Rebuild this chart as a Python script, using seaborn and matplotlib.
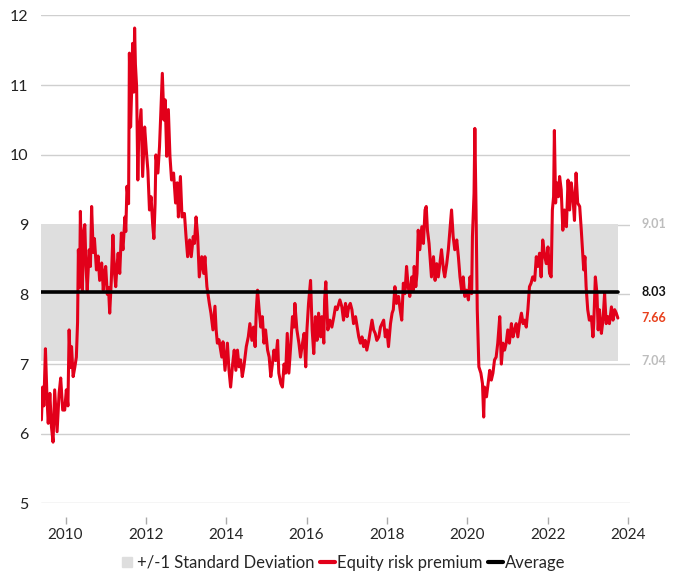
import matplotlib
matplotlib.use("Agg")
import matplotlib.pyplot as plt
import seaborn as sns
import pandas as pd
from matplotlib.lines import Line2D

# ---- data ----
years = [
    2009.40, 2009.43, 2009.46, 2009.50, 2009.54, 2009.57, 2009.61, 2009.65, 2009.69, 2009.73,
    2009.79, 2009.84, 2009.88, 2009.93, 2009.98, 2010.02, 2010.06, 2010.09, 2010.12, 2010.15,
    2010.19, 2010.23, 2010.27, 2010.30, 2010.32, 2010.35, 2010.37, 2010.40, 2010.42, 2010.45,
    2010.48, 2010.51, 2010.54, 2010.59, 2010.62, 2010.65, 2010.69, 2010.72, 2010.77, 2010.81,
    2010.85, 2010.90, 2010.94, 2010.97, 2011.00, 2011.04, 2011.07, 2011.10, 2011.14, 2011.18,
    2011.22, 2011.25, 2011.28, 2011.31, 2011.35, 2011.39, 2011.43, 2011.48, 2011.50, 2011.53,
    2011.57, 2011.59, 2011.62, 2011.65, 2011.67, 2011.70, 2011.72, 2011.74, 2011.77, 2011.80,
    2011.82, 2011.86, 2011.88, 2011.92, 2011.97, 2012.01, 2012.05, 2012.09, 2012.13, 2012.17,
    2012.20, 2012.23, 2012.25, 2012.30, 2012.34, 2012.38, 2012.41, 2012.45, 2012.48, 2012.52,
    2012.56, 2012.60, 2012.64, 2012.69, 2012.74, 2012.78, 2012.81, 2012.86, 2012.90, 2012.96,
    2013.00, 2013.04, 2013.09, 2013.13, 2013.18, 2013.21, 2013.25, 2013.29, 2013.33, 2013.39,
    2013.44, 2013.47, 2013.52, 2013.58, 2013.62, 2013.67, 2013.72, 2013.75, 2013.78, 2013.82,
    2013.89, 2013.92, 2013.97, 2014.03, 2014.07, 2014.11, 2014.16, 2014.20, 2014.24, 2014.28,
    2014.32, 2014.36, 2014.40, 2014.44, 2014.50, 2014.55, 2014.59, 2014.64, 2014.68, 2014.72,
    2014.75, 2014.78, 2014.82, 2014.86, 2014.90, 2014.94, 2014.98, 2015.03, 2015.07, 2015.11,
    2015.15, 2015.19, 2015.23, 2015.28, 2015.31, 2015.36, 2015.40, 2015.44, 2015.48, 2015.52,
    2015.56, 2015.61, 2015.65, 2015.69, 2015.71, 2015.76, 2015.81, 2015.85, 2015.90, 2015.94,
    2015.98, 2016.01, 2016.05, 2016.10, 2016.14, 2016.18, 2016.22, 2016.26, 2016.30, 2016.35,
    2016.38, 2016.43, 2016.45, 2016.48, 2016.53, 2016.58, 2016.63, 2016.68, 2016.72, 2016.76,
    2016.83, 2016.88, 2016.92, 2016.97, 2017.01, 2017.05, 2017.09, 2017.13, 2017.17, 2017.22,
    2017.26, 2017.30, 2017.34, 2017.38, 2017.42, 2017.46, 2017.50, 2017.55, 2017.59, 2017.63,
    2017.67, 2017.71, 2017.75, 2017.80, 2017.84, 2017.88, 2017.92, 2017.96, 2018.00, 2018.04,
    2018.09, 2018.13, 2018.16, 2018.20, 2018.24, 2018.29, 2018.33, 2018.37, 2018.41, 2018.45,
    2018.49, 2018.53, 2018.57, 2018.62, 2018.66, 2018.68, 2018.72, 2018.75, 2018.78, 2018.82,
    2018.87, 2018.91, 2018.95, 2018.98, 2019.01, 2019.05, 2019.08, 2019.11, 2019.16, 2019.20,
    2019.24, 2019.28, 2019.32, 2019.36, 2019.41, 2019.44, 2019.49, 2019.53, 2019.57, 2019.61,
    2019.65, 2019.69, 2019.74, 2019.78, 2019.82, 2019.86, 2019.90, 2019.94, 2019.98, 2020.03,
    2020.07, 2020.11, 2020.13, 2020.17, 2020.19, 2020.22, 2020.25, 2020.29, 2020.34, 2020.38,
    2020.41, 2020.43, 2020.48, 2020.52, 2020.56, 2020.60, 2020.64, 2020.68, 2020.72, 2020.76,
    2020.81, 2020.85, 2020.89, 2020.93, 2020.97, 2021.01, 2021.05, 2021.10, 2021.14, 2021.18,
    2021.22, 2021.26, 2021.30, 2021.35, 2021.39, 2021.43, 2021.47, 2021.51, 2021.55, 2021.59,
    2021.63, 2021.68, 2021.72, 2021.76, 2021.80, 2021.84, 2021.88, 2021.93, 2021.97, 2022.01,
    2022.05, 2022.09, 2022.12, 2022.15, 2022.17, 2022.20, 2022.23, 2022.27, 2022.30, 2022.34,
    2022.38, 2022.42, 2022.47, 2022.51, 2022.55, 2022.59, 2022.63, 2022.67, 2022.71, 2022.75,
    2022.80, 2022.84, 2022.88, 2022.90, 2022.93, 2022.96, 2023.00, 2023.04, 2023.09, 2023.13,
    2023.15, 2023.19, 2023.23, 2023.26, 2023.29, 2023.34, 2023.38, 2023.42, 2023.46, 2023.50,
    2023.54, 2023.59, 2023.63, 2023.67, 2023.71, 2023.75,
]
erp = [
    6.20, 6.67, 6.40, 7.22, 6.50, 6.15, 6.58, 6.10, 5.88, 6.63,
    6.03, 6.58, 6.80, 6.34, 6.34, 6.63, 6.40, 7.49, 6.95, 7.25,
    6.82, 6.95, 7.10, 7.60, 8.64, 8.10, 9.19, 8.30, 8.06, 8.90,
    9.00, 8.40, 8.06, 8.64, 8.40, 9.26, 8.60, 8.80, 8.35, 8.55,
    8.20, 8.45, 8.06, 8.30, 8.40, 8.00, 8.10, 7.73, 8.20, 8.85,
    8.30, 8.11, 8.40, 8.59, 8.30, 8.88, 8.64, 9.11, 8.90, 9.55,
    9.30, 11.46, 10.40, 11.00, 11.60, 10.90, 11.82, 11.30, 10.98, 9.64,
    10.20, 10.50, 10.65, 9.69, 10.40, 10.07, 9.78, 9.21, 9.40, 9.00,
    8.80, 9.30, 10.00, 9.74, 10.12, 10.74, 11.17, 10.50, 10.79, 9.98,
    10.65, 9.98, 9.64, 9.74, 9.31, 9.60, 9.11, 9.69, 9.11, 9.16,
    8.83, 8.54, 8.78, 8.54, 8.83, 8.73, 9.11, 8.83, 8.25, 8.54,
    8.30, 8.54, 8.11, 7.87, 7.73, 7.49, 7.83, 7.49, 7.30, 7.35,
    7.10, 7.32, 6.91, 7.30, 6.91, 6.67, 7.00, 7.20, 6.91, 7.20,
    6.96, 7.06, 6.82, 6.96, 7.25, 7.39, 7.58, 7.34, 7.53, 7.25,
    7.78, 8.06, 7.78, 7.53, 7.68, 7.30, 7.49, 7.20, 7.10, 6.82,
    7.00, 7.20, 7.05, 7.34, 6.87, 6.72, 6.67, 7.00, 6.87, 7.44,
    6.87, 7.30, 7.68, 7.53, 7.87, 7.49, 7.30, 7.10, 7.30, 7.44,
    6.96, 7.49, 7.87, 8.20, 7.49, 7.15, 7.68, 7.34, 7.73, 7.39,
    7.68, 7.30, 7.92, 8.18, 7.49, 7.63, 7.53, 7.68, 7.82, 7.78,
    7.92, 7.82, 7.63, 7.87, 7.68, 7.82, 7.87, 7.78, 7.58, 7.68,
    7.53, 7.39, 7.30, 7.39, 7.25, 7.34, 7.20, 7.34, 7.49, 7.63,
    7.49, 7.44, 7.34, 7.39, 7.53, 7.58, 7.63, 7.39, 7.49, 7.25,
    7.58, 7.73, 7.78, 8.11, 7.87, 7.97, 7.78, 7.63, 8.16, 8.01,
    8.40, 8.11, 7.97, 8.25, 8.06, 8.40, 8.11, 8.30, 8.92, 8.64,
    8.97, 8.73, 9.21, 9.26, 8.92, 8.73, 8.49, 8.25, 8.54, 8.20,
    8.44, 8.25, 8.44, 8.64, 8.35, 8.25, 8.44, 8.64, 8.92, 9.21,
    8.83, 8.64, 8.78, 8.54, 8.25, 8.06, 8.25, 7.97, 8.06, 7.92,
    8.25, 8.01, 8.83, 9.45, 10.38, 9.21, 7.78, 6.96, 6.87, 6.72,
    6.24, 6.67, 6.53, 6.72, 6.91, 6.77, 6.87, 7.06, 7.10, 7.30,
    7.68, 7.00, 7.30, 7.20, 7.30, 7.49, 7.30, 7.58, 7.39, 7.49,
    7.58, 7.39, 7.58, 7.73, 7.58, 7.63, 7.53, 7.78, 8.11, 8.16,
    8.25, 8.20, 8.54, 8.40, 8.59, 8.25, 8.78, 8.54, 8.44, 8.68,
    8.30, 8.25, 9.21, 9.40, 10.35, 9.31, 9.60, 9.40, 9.69, 9.50,
    8.92, 9.21, 8.97, 9.64, 9.21, 9.60, 9.40, 9.06, 9.74, 9.31,
    9.26, 8.92, 8.54, 8.35, 8.54, 8.11, 7.78, 7.63, 7.68, 7.39,
    7.58, 8.25, 8.01, 7.49, 7.78, 7.44, 7.63, 8.01, 7.58, 7.68,
    7.58, 7.82, 7.63, 7.78, 7.73, 7.66,
]
average = 8.03
sd_upper = 9.01
sd_lower = 7.04
latest = 7.66
x_ticks = [2010, 2012, 2014, 2016, 2018, 2020, 2022, 2024]
y_ticks = [5, 6, 7, 8, 9, 10, 11, 12]
legend_labels = ["+/-1 Standard Deviation", "Equity risk premium", "Average"]

RED = "#E2001A"
BAND = "#DEDEDE"
GRID = "#CFCFCF"

sns.set_theme(style="white")
plt.rcParams["font.family"] = ["Lato", "DejaVu Sans"]

df = pd.DataFrame({"year": years, "erp": erp})

fig = plt.figure(figsize=(6.79, 5.73), dpi=100)
ax = fig.add_axes([0.0604, 0.1213, 0.8667, 0.8517])

# grid
for v in y_ticks:
    ax.axhline(v, color=GRID, lw=1.0, zorder=0)

# +/-1 SD band
ax.fill_between([years[0], years[-1]], sd_lower, sd_upper, color=BAND, lw=0, zorder=1)

# Equity risk premium line
sns.lineplot(data=df, x="year", y="erp", ax=ax, color=RED, lw=2.2,
             estimator=None, sort=False, zorder=3)

# average
ax.plot([years[0], years[-1]], [average, average], color="black", lw=2.6, zorder=4)

ax.set_xlim(2009.39, 2024.04)
ax.set_ylim(5, 12)
ax.set_xticks(x_ticks)
ax.set_yticks(y_ticks)
ax.set_xticklabels([str(t) for t in x_ticks], fontsize=11.5, color="#222222")
ax.set_yticklabels([str(t) for t in y_ticks], fontsize=11.5, color="#222222")
ax.set_xlabel("")
ax.set_ylabel("")
ax.grid(False)
for s in ax.spines.values():
    s.set_visible(False)
ax.spines["bottom"].set_position(("outward", 10))
ax.tick_params(axis="x", which="major", length=5, width=1, color="#AAAAAA",
               direction="out", pad=2.5, bottom=True)
ax.tick_params(axis="y", length=0, pad=9)

# right-hand value labels
trans = ax.get_yaxis_transform()
ax.text(1.02, sd_upper, f"{sd_upper:.2f}", transform=trans, ha="left", va="center",
        fontsize=9, fontweight="bold", color="#BDBDBD")
ax.text(1.02, average, f"{average:.2f}", transform=trans, ha="left", va="center",
        fontsize=9, fontweight="bold", color="#111111")
ax.text(1.02, latest, f"{latest:.2f}", transform=trans, ha="left", va="center",
        fontsize=9, fontweight="bold", color="#E8401C")
ax.text(1.02, sd_lower, f"{sd_lower:.2f}", transform=trans, ha="left", va="center",
        fontsize=9, fontweight="bold", color="#BDBDBD")

handles = [
    Line2D([0], [0], marker="s", color=BAND, ls="none", markersize=7),
    Line2D([0], [0], color=RED, lw=3),
    Line2D([0], [0], color="black", lw=3),
]
fig.legend(handles, legend_labels, loc="center", bbox_to_anchor=(0.505, 0.018),
           ncol=3, frameon=False, fontsize=12, handlelength=0.9, handleheight=0.6,
           handletextpad=0.15, columnspacing=0.3, borderaxespad=0)

fig.savefig("out.png", dpi=100)
